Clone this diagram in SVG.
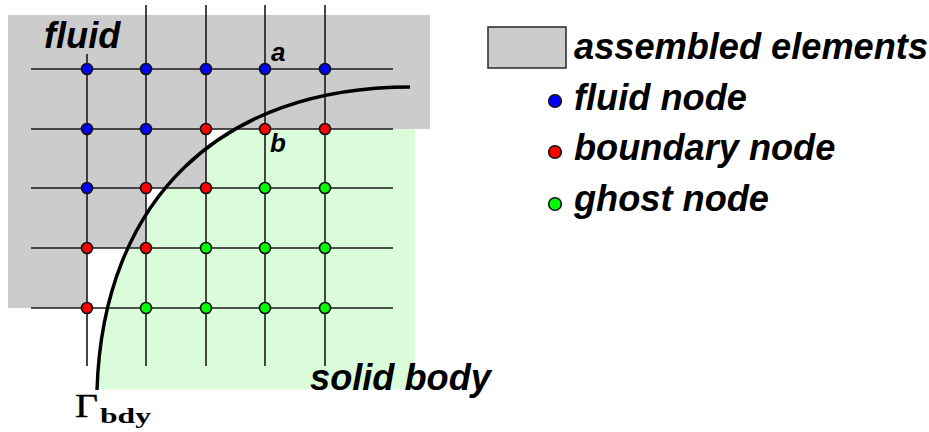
<svg xmlns="http://www.w3.org/2000/svg" width="929" height="432" viewBox="0 0 929 432">
  <style>
    .lbl { font-family: "Liberation Sans", Arial, sans-serif; font-weight: bold; font-style: italic; fill: #000; }
    .big { font-size: 36.2px; }
    .small { font-size: 26px; }
    .grid line { stroke: #1a1a1a; stroke-width: 1.6; }
    .node { stroke: #111; stroke-width: 1.6; }
    .fluid { fill: #0000ff; }
    .bnd { fill: #ff0000; }
    .ghost { fill: #00ff00; }
  </style>
  <defs>
    <clipPath id="belowTop">
      <rect x="0" y="129" width="929" height="303"/>
    </clipPath>
  </defs>

  <!-- solid body region, bounded by the curve -->
  <g id="solid-region">
    <path d="M97,390 C103,200 220,87 410,87 L415,87 L415,389 L97,389 Z" fill="#dbfcdb" clip-path="url(#belowTop)"/>
  </g>

  <!-- assembled elements region -->
  <g id="assembled-region">
    <path d="M8,15 L430,15 L430,129 L206,129 L206,188 L146,188 L146,248 L87,248 L87,308 L8,308 Z" fill="#cccccc"/>
  </g>

  <!-- mesh lines -->
  <g id="connectors" class="grid">
    <line x1="31" y1="69" x2="393" y2="69"/>
    <line x1="31" y1="129" x2="393" y2="129"/>
    <line x1="31" y1="188" x2="393" y2="188"/>
    <line x1="31" y1="248" x2="393" y2="248"/>
    <line x1="31" y1="308" x2="393" y2="308"/>
    <line x1="87" y1="54" x2="87" y2="366"/>
    <line x1="146" y1="5" x2="146" y2="366"/>
    <line x1="206" y1="5" x2="206" y2="366"/>
    <line x1="265" y1="5" x2="265" y2="366"/>
    <line x1="325" y1="5" x2="325" y2="366"/>
  </g>

  <!-- boundary curve -->
  <g id="boundary-curve">
    <path d="M97,390 C103,200 220,87 410,87" fill="none" stroke="#000" stroke-width="3.4"/>
  </g>

  <!-- mesh nodes -->
  <g id="nodes">
    <g id="row1">
      <circle class="node fluid" cx="87" cy="69" r="5.5"/>
      <circle class="node fluid" cx="146" cy="69" r="5.5"/>
      <circle class="node fluid" cx="206" cy="69" r="5.5"/>
      <circle class="node fluid" cx="265" cy="69" r="5.5"/>
      <circle class="node fluid" cx="325" cy="69" r="5.5"/>
    </g>
    <g id="row2">
      <circle class="node fluid" cx="87" cy="129" r="5.5"/>
      <circle class="node fluid" cx="146" cy="129" r="5.5"/>
      <circle class="node bnd" cx="206" cy="129" r="5.5"/>
      <circle class="node bnd" cx="265" cy="129" r="5.5"/>
      <circle class="node bnd" cx="325" cy="129" r="5.5"/>
    </g>
    <g id="row3">
      <circle class="node fluid" cx="87" cy="188" r="5.5"/>
      <circle class="node bnd" cx="146" cy="188" r="5.5"/>
      <circle class="node bnd" cx="206" cy="188" r="5.5"/>
      <circle class="node ghost" cx="265" cy="188" r="5.5"/>
      <circle class="node ghost" cx="325" cy="188" r="5.5"/>
    </g>
    <g id="row4">
      <circle class="node bnd" cx="87" cy="248" r="5.5"/>
      <circle class="node bnd" cx="146" cy="248" r="5.5"/>
      <circle class="node ghost" cx="206" cy="248" r="5.5"/>
      <circle class="node ghost" cx="265" cy="248" r="5.5"/>
      <circle class="node ghost" cx="325" cy="248" r="5.5"/>
    </g>
    <g id="row5">
      <circle class="node bnd" cx="87" cy="308" r="5.5"/>
      <circle class="node ghost" cx="146" cy="308" r="5.5"/>
      <circle class="node ghost" cx="206" cy="308" r="5.5"/>
      <circle class="node ghost" cx="265" cy="308" r="5.5"/>
      <circle class="node ghost" cx="325" cy="308" r="5.5"/>
    </g>
  </g>

  <!-- region and node labels -->
  <g id="labels">
    <text class="lbl big" x="44" y="48">fluid</text>
    <text class="lbl small" x="271" y="61">a</text>
    <text class="lbl small" x="270" y="152">b</text>
    <text class="lbl big" x="310" y="390">solid body</text>
    <text x="75" y="417" font-family="'Liberation Serif', 'Times New Roman', serif" font-size="34" textLength="23" lengthAdjust="spacingAndGlyphs" stroke="#000" stroke-width="0.4">Γ</text>
    <text x="100" y="423" font-family="'Liberation Serif', 'Times New Roman', serif" font-weight="bold" font-size="22" textLength="51" lengthAdjust="spacingAndGlyphs">bdy</text>
  </g>

  <!-- legend -->
  <g id="legend">
    <g id="legend-assembled">
      <rect x="488" y="27" width="78" height="41" fill="#cccccc" stroke="#333" stroke-width="1.6"/>
      <text class="lbl big" x="574" y="59">assembled elements</text>
    </g>
    <g id="legend-fluid">
      <circle class="node fluid" cx="555" cy="101" r="6.3"/>
      <text class="lbl big" x="574" y="110">fluid node</text>
    </g>
    <g id="legend-boundary">
      <circle class="node bnd" cx="555" cy="152" r="6.3"/>
      <text class="lbl big" x="574" y="160">boundary node</text>
    </g>
    <g id="legend-ghost">
      <circle class="node ghost" cx="555" cy="204" r="6.3"/>
      <text class="lbl big" x="574" y="211">ghost node</text>
    </g>
  </g>
</svg>
